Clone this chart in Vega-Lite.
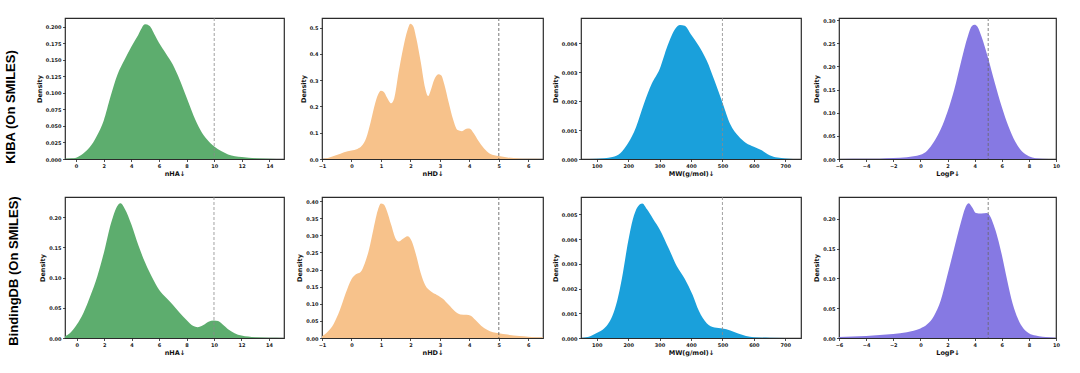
{
  "$schema": "https://vega.github.io/schema/vega-lite/v6.json",
  "background": "white",
  "padding": {"left": 4, "top": 17, "right": 0, "bottom": 0},
  "datasets": {
    "kiba_nha": [
      {"x": -0.8, "d": 0.0005}, {"x": -0.3, "d": 0.001}, {"x": 0, "d": 0.002}, {"x": 0.5, "d": 0.008}, {"x": 1.0, "d": 0.018}, {"x": 1.5, "d": 0.035}, {"x": 2.0, "d": 0.058}, {"x": 2.5, "d": 0.095}, {"x": 3.0, "d": 0.128}, {"x": 3.5, "d": 0.15}, {"x": 4.0, "d": 0.17}, {"x": 4.5, "d": 0.188}, {"x": 5.0, "d": 0.204}, {"x": 5.3, "d": 0.202}, {"x": 5.7, "d": 0.188}, {"x": 6.0, "d": 0.176}, {"x": 6.5, "d": 0.16}, {"x": 7.0, "d": 0.143}, {"x": 7.5, "d": 0.12}, {"x": 8.0, "d": 0.093}, {"x": 8.5, "d": 0.066}, {"x": 9.0, "d": 0.044}, {"x": 9.5, "d": 0.029}, {"x": 10.0, "d": 0.019}, {"x": 10.5, "d": 0.012}, {"x": 11.0, "d": 0.007}, {"x": 12.0, "d": 0.003}, {"x": 13.0, "d": 0.0012}, {"x": 14.0, "d": 0.0005}, {"x": 15.05, "d": 0.0001}
    ],
    "kiba_nhd": [
      {"x": -1.0, "d": 0.0}, {"x": -0.8, "d": 0.004}, {"x": -0.5, "d": 0.015}, {"x": -0.25, "d": 0.026}, {"x": 0.0, "d": 0.032}, {"x": 0.2, "d": 0.038}, {"x": 0.35, "d": 0.05}, {"x": 0.5, "d": 0.08}, {"x": 0.65, "d": 0.14}, {"x": 0.8, "d": 0.21}, {"x": 0.9, "d": 0.245}, {"x": 1.0, "d": 0.26}, {"x": 1.1, "d": 0.255}, {"x": 1.2, "d": 0.235}, {"x": 1.35, "d": 0.212}, {"x": 1.45, "d": 0.23}, {"x": 1.6, "d": 0.33}, {"x": 1.75, "d": 0.42}, {"x": 1.9, "d": 0.49}, {"x": 2.0, "d": 0.515}, {"x": 2.1, "d": 0.505}, {"x": 2.2, "d": 0.46}, {"x": 2.35, "d": 0.37}, {"x": 2.5, "d": 0.27}, {"x": 2.6, "d": 0.24}, {"x": 2.7, "d": 0.265}, {"x": 2.8, "d": 0.3}, {"x": 2.95, "d": 0.323}, {"x": 3.05, "d": 0.318}, {"x": 3.15, "d": 0.285}, {"x": 3.3, "d": 0.215}, {"x": 3.45, "d": 0.15}, {"x": 3.6, "d": 0.11}, {"x": 3.75, "d": 0.106}, {"x": 3.9, "d": 0.115}, {"x": 4.0, "d": 0.116}, {"x": 4.15, "d": 0.098}, {"x": 4.3, "d": 0.07}, {"x": 4.5, "d": 0.04}, {"x": 4.7, "d": 0.02}, {"x": 5.0, "d": 0.011}, {"x": 5.3, "d": 0.006}, {"x": 5.7, "d": 0.002}, {"x": 6.0, "d": 0.0005}, {"x": 6.5, "d": 0.0}
    ],
    "kiba_mw": [
      {"x": 50, "d": 0}, {"x": 100, "d": 0.00001}, {"x": 150, "d": 0.00007}, {"x": 175, "d": 0.0002}, {"x": 200, "d": 0.00055}, {"x": 225, "d": 0.0011}, {"x": 250, "d": 0.0019}, {"x": 275, "d": 0.0026}, {"x": 300, "d": 0.0031}, {"x": 325, "d": 0.0039}, {"x": 350, "d": 0.0045}, {"x": 365, "d": 0.00463}, {"x": 380, "d": 0.0046}, {"x": 400, "d": 0.0043}, {"x": 425, "d": 0.0039}, {"x": 450, "d": 0.0034}, {"x": 475, "d": 0.0027}, {"x": 500, "d": 0.00195}, {"x": 525, "d": 0.0012}, {"x": 550, "d": 0.0008}, {"x": 575, "d": 0.00055}, {"x": 600, "d": 0.00042}, {"x": 625, "d": 0.0003}, {"x": 650, "d": 0.00013}, {"x": 675, "d": 0.00005}, {"x": 700, "d": 0.00002}, {"x": 750, "d": 0}
    ],
    "kiba_logp": [
      {"x": -6, "d": 0}, {"x": -4, "d": 0.0003}, {"x": -3, "d": 0.0008}, {"x": -2, "d": 0.002}, {"x": -1, "d": 0.004}, {"x": -0.5, "d": 0.006}, {"x": 0, "d": 0.009}, {"x": 0.5, "d": 0.018}, {"x": 1.0, "d": 0.037}, {"x": 1.5, "d": 0.064}, {"x": 2.0, "d": 0.102}, {"x": 2.5, "d": 0.15}, {"x": 3.0, "d": 0.21}, {"x": 3.5, "d": 0.265}, {"x": 3.8, "d": 0.287}, {"x": 4.0, "d": 0.29}, {"x": 4.2, "d": 0.286}, {"x": 4.5, "d": 0.265}, {"x": 5.0, "d": 0.217}, {"x": 5.5, "d": 0.163}, {"x": 6.0, "d": 0.113}, {"x": 6.5, "d": 0.07}, {"x": 7.0, "d": 0.037}, {"x": 7.5, "d": 0.016}, {"x": 8.0, "d": 0.006}, {"x": 8.5, "d": 0.0015}, {"x": 9.0, "d": 0.0004}, {"x": 10, "d": 0}
    ],
    "bdb_nha": [
      {"x": -0.85, "d": 0.003}, {"x": -0.5, "d": 0.008}, {"x": 0, "d": 0.022}, {"x": 0.5, "d": 0.042}, {"x": 1.0, "d": 0.07}, {"x": 1.5, "d": 0.102}, {"x": 2.0, "d": 0.143}, {"x": 2.5, "d": 0.19}, {"x": 3.0, "d": 0.22}, {"x": 3.2, "d": 0.223}, {"x": 3.5, "d": 0.214}, {"x": 4.0, "d": 0.187}, {"x": 4.5, "d": 0.153}, {"x": 5.0, "d": 0.124}, {"x": 5.5, "d": 0.1}, {"x": 6.0, "d": 0.08}, {"x": 6.5, "d": 0.067}, {"x": 7.0, "d": 0.055}, {"x": 7.5, "d": 0.042}, {"x": 8.0, "d": 0.03}, {"x": 8.5, "d": 0.02}, {"x": 8.8, "d": 0.018}, {"x": 9.2, "d": 0.021}, {"x": 9.6, "d": 0.027}, {"x": 10.0, "d": 0.029}, {"x": 10.3, "d": 0.028}, {"x": 10.7, "d": 0.021}, {"x": 11.0, "d": 0.015}, {"x": 11.5, "d": 0.008}, {"x": 12.0, "d": 0.004}, {"x": 13.0, "d": 0.0013}, {"x": 14.0, "d": 0.0004}, {"x": 15.1, "d": 0.0001}
    ],
    "bdb_nhd": [
      {"x": -1.0, "d": 0.005}, {"x": -0.8, "d": 0.019}, {"x": -0.6, "d": 0.042}, {"x": -0.4, "d": 0.08}, {"x": -0.2, "d": 0.13}, {"x": 0.0, "d": 0.172}, {"x": 0.15, "d": 0.186}, {"x": 0.3, "d": 0.192}, {"x": 0.45, "d": 0.218}, {"x": 0.6, "d": 0.26}, {"x": 0.75, "d": 0.32}, {"x": 0.9, "d": 0.375}, {"x": 1.0, "d": 0.393}, {"x": 1.1, "d": 0.39}, {"x": 1.2, "d": 0.372}, {"x": 1.35, "d": 0.33}, {"x": 1.5, "d": 0.29}, {"x": 1.6, "d": 0.282}, {"x": 1.75, "d": 0.29}, {"x": 1.9, "d": 0.297}, {"x": 2.05, "d": 0.282}, {"x": 2.2, "d": 0.24}, {"x": 2.35, "d": 0.19}, {"x": 2.5, "d": 0.155}, {"x": 2.7, "d": 0.136}, {"x": 2.9, "d": 0.126}, {"x": 3.1, "d": 0.115}, {"x": 3.3, "d": 0.097}, {"x": 3.5, "d": 0.079}, {"x": 3.7, "d": 0.069}, {"x": 3.9, "d": 0.068}, {"x": 4.05, "d": 0.065}, {"x": 4.2, "d": 0.053}, {"x": 4.4, "d": 0.036}, {"x": 4.6, "d": 0.024}, {"x": 4.8, "d": 0.017}, {"x": 5.0, "d": 0.014}, {"x": 5.3, "d": 0.01}, {"x": 5.7, "d": 0.006}, {"x": 6.0, "d": 0.004}, {"x": 6.5, "d": 0.002}
    ],
    "bdb_mw": [
      {"x": 50, "d": 0}, {"x": 75, "d": 0.00005}, {"x": 100, "d": 0.0002}, {"x": 125, "d": 0.0004}, {"x": 150, "d": 0.0009}, {"x": 165, "d": 0.0015}, {"x": 180, "d": 0.0024}, {"x": 200, "d": 0.0039}, {"x": 215, "d": 0.0048}, {"x": 230, "d": 0.0053}, {"x": 245, "d": 0.00544}, {"x": 260, "d": 0.0052}, {"x": 280, "d": 0.0048}, {"x": 300, "d": 0.0044}, {"x": 330, "d": 0.0036}, {"x": 355, "d": 0.0029}, {"x": 380, "d": 0.0024}, {"x": 405, "d": 0.00175}, {"x": 425, "d": 0.0011}, {"x": 450, "d": 0.0006}, {"x": 475, "d": 0.00042}, {"x": 500, "d": 0.00038}, {"x": 525, "d": 0.0003}, {"x": 550, "d": 0.00018}, {"x": 575, "d": 0.00008}, {"x": 600, "d": 0.00003}, {"x": 650, "d": 0.00001}, {"x": 750, "d": 0}
    ],
    "bdb_logp": [
      {"x": -6, "d": 0.0015}, {"x": -5, "d": 0.0025}, {"x": -4, "d": 0.0035}, {"x": -3, "d": 0.005}, {"x": -2, "d": 0.0068}, {"x": -1, "d": 0.0095}, {"x": -0.5, "d": 0.012}, {"x": 0, "d": 0.016}, {"x": 0.5, "d": 0.023}, {"x": 1.0, "d": 0.037}, {"x": 1.5, "d": 0.063}, {"x": 2.0, "d": 0.106}, {"x": 2.5, "d": 0.151}, {"x": 3.0, "d": 0.195}, {"x": 3.3, "d": 0.218}, {"x": 3.55, "d": 0.226}, {"x": 3.8, "d": 0.22}, {"x": 4.1, "d": 0.21}, {"x": 4.5, "d": 0.209}, {"x": 4.9, "d": 0.21}, {"x": 5.1, "d": 0.206}, {"x": 5.4, "d": 0.19}, {"x": 5.7, "d": 0.168}, {"x": 6.0, "d": 0.14}, {"x": 6.4, "d": 0.097}, {"x": 6.8, "d": 0.058}, {"x": 7.2, "d": 0.032}, {"x": 7.6, "d": 0.016}, {"x": 8.0, "d": 0.008}, {"x": 8.5, "d": 0.004}, {"x": 9.0, "d": 0.002}, {"x": 10, "d": 0.0005}
    ]
  },
  "spacing": 18,
  "vconcat": [
    {
      "spacing": 38,
      "bounds": "flush",
      "title": {"text": "KIBA (On SMILES)", "orient": "left", "anchor": "middle", "frame": "bounds", "font": "Liberation Sans", "fontSize": 13, "fontWeight": "bold", "color": "#000", "offset": 18, "dx": -10},
      "hconcat": [
        {
          "width": 219, "height": 141,
          "data": {"name": "kiba_nha"},
          "layer": [
            {"mark": {"type": "area", "color": "#5dad6e", "interpolate": "monotone", "clip": true},
             "encoding": {
               "x": {"field": "x", "type": "quantitative", "scale": {"domain": [-0.8, 15.05], "nice": false, "zero": false}, "axis": {"title": "nHA↓", "values": [0, 2, 4, 6, 8, 10, 12, 14], "tickCount": 50, "format": "d", "labelOverlap": false}},
               "y": {"field": "d", "type": "quantitative", "scale": {"domain": [0, 0.2136], "nice": false}, "axis": {"title": "Density", "values": [0, 0.025, 0.05, 0.075, 0.1, 0.125, 0.15, 0.175, 0.2], "tickCount": 50, "format": ".3f", "labelOverlap": false}}
             }},
            {"data": {"values": [{"x": 10}]}, "mark": {"type": "rule", "color": "#8a8a8a", "strokeDash": [3, 2], "strokeWidth": 0.8},
             "encoding": {"x": {"field": "x", "type": "quantitative"}}}
          ]
        },
        {
          "width": 221, "height": 141,
          "data": {"name": "kiba_nhd"},
          "layer": [
            {"mark": {"type": "area", "color": "#f7c28b", "interpolate": "monotone", "clip": true},
             "encoding": {
               "x": {"field": "x", "type": "quantitative", "scale": {"domain": [-1, 6.5], "nice": false, "zero": false}, "axis": {"title": "nHD↓", "values": [-1, 0, 1, 2, 3, 4, 5, 6], "tickCount": 50, "format": "d", "labelOverlap": false}},
               "y": {"field": "d", "type": "quantitative", "scale": {"domain": [0, 0.537], "nice": false}, "axis": {"title": "Density", "values": [0, 0.1, 0.2, 0.3, 0.4, 0.5], "tickCount": 50, "format": ".1f", "labelOverlap": false}}
             }},
            {"data": {"values": [{"x": 5}]}, "mark": {"type": "rule", "color": "#555555", "strokeDash": [3, 2], "strokeWidth": 0.8},
             "encoding": {"x": {"field": "x", "type": "quantitative"}}}
          ]
        },
        {
          "width": 220, "height": 141,
          "data": {"name": "kiba_mw"},
          "layer": [
            {"mark": {"type": "area", "color": "#1aa0db", "interpolate": "monotone", "clip": true},
             "encoding": {
               "x": {"field": "x", "type": "quantitative", "scale": {"domain": [50, 750], "nice": false, "zero": false}, "axis": {"title": "MW(g/mol)↓", "values": [100, 200, 300, 400, 500, 600, 700], "tickCount": 50, "format": "d", "labelOverlap": false}},
               "y": {"field": "d", "type": "quantitative", "scale": {"domain": [0, 0.00487], "nice": false}, "axis": {"title": "Density", "values": [0, 0.001, 0.002, 0.003, 0.004], "tickCount": 50, "format": ".3f", "labelOverlap": false}}
             }},
            {"data": {"values": [{"x": 500}]}, "mark": {"type": "rule", "color": "#8a8a8a", "strokeDash": [3, 2], "strokeWidth": 0.8},
             "encoding": {"x": {"field": "x", "type": "quantitative"}}}
          ]
        },
        {
          "width": 217, "height": 141,
          "data": {"name": "kiba_logp"},
          "layer": [
            {"mark": {"type": "area", "color": "#8679e3", "interpolate": "monotone", "clip": true},
             "encoding": {
               "x": {"field": "x", "type": "quantitative", "scale": {"domain": [-6, 10], "nice": false, "zero": false}, "axis": {"title": "LogP↓", "values": [-6, -4, -2, 0, 2, 4, 6, 8, 10], "tickCount": 50, "format": "d", "labelOverlap": false}},
               "y": {"field": "d", "type": "quantitative", "scale": {"domain": [0, 0.3045], "nice": false}, "axis": {"title": "Density", "values": [0, 0.05, 0.1, 0.15, 0.2, 0.25, 0.3], "tickCount": 50, "format": ".2f", "labelOverlap": false}}
             }},
            {"data": {"values": [{"x": 5}]}, "mark": {"type": "rule", "color": "#666666", "strokeDash": [3, 2], "strokeWidth": 0.8},
             "encoding": {"x": {"field": "x", "type": "quantitative"}}}
          ]
        }
      ]
    },
    {
      "spacing": 38,
      "bounds": "flush",
      "title": {"text": "BindingDB (On SMILES)", "orient": "left", "anchor": "middle", "frame": "bounds", "font": "Liberation Sans", "fontSize": 13, "fontWeight": "bold", "color": "#000", "offset": 18, "dx": 5},
      "hconcat": [
        {
          "width": 219, "height": 141,
          "data": {"name": "bdb_nha"},
          "layer": [
            {"mark": {"type": "area", "color": "#5dad6e", "interpolate": "monotone", "clip": true},
             "encoding": {
               "x": {"field": "x", "type": "quantitative", "scale": {"domain": [-0.85, 15.1], "nice": false, "zero": false}, "axis": {"title": "nHA↓", "values": [0, 2, 4, 6, 8, 10, 12, 14], "tickCount": 50, "format": "d", "labelOverlap": false}},
               "y": {"field": "d", "type": "quantitative", "scale": {"domain": [0, 0.2335], "nice": false}, "axis": {"title": "Density", "values": [0, 0.05, 0.1, 0.15, 0.2], "tickCount": 50, "format": ".2f", "labelOverlap": false}}
             }},
            {"data": {"values": [{"x": 10}]}, "mark": {"type": "rule", "color": "#8a8a8a", "strokeDash": [3, 2], "strokeWidth": 0.8},
             "encoding": {"x": {"field": "x", "type": "quantitative"}}}
          ]
        },
        {
          "width": 221, "height": 141,
          "data": {"name": "bdb_nhd"},
          "layer": [
            {"mark": {"type": "area", "color": "#f7c28b", "interpolate": "monotone", "clip": true},
             "encoding": {
               "x": {"field": "x", "type": "quantitative", "scale": {"domain": [-1, 6.5], "nice": false, "zero": false}, "axis": {"title": "nHD↓", "values": [-1, 0, 1, 2, 3, 4, 5, 6], "tickCount": 50, "format": "d", "labelOverlap": false}},
               "y": {"field": "d", "type": "quantitative", "scale": {"domain": [0, 0.412], "nice": false}, "axis": {"title": "Density", "values": [0, 0.05, 0.1, 0.15, 0.2, 0.25, 0.3, 0.35, 0.4], "tickCount": 50, "format": ".2f", "labelOverlap": false}}
             }},
            {"data": {"values": [{"x": 5}]}, "mark": {"type": "rule", "color": "#555555", "strokeDash": [3, 2], "strokeWidth": 0.8},
             "encoding": {"x": {"field": "x", "type": "quantitative"}}}
          ]
        },
        {
          "width": 220, "height": 141,
          "data": {"name": "bdb_mw"},
          "layer": [
            {"mark": {"type": "area", "color": "#1aa0db", "interpolate": "monotone", "clip": true},
             "encoding": {
               "x": {"field": "x", "type": "quantitative", "scale": {"domain": [50, 750], "nice": false, "zero": false}, "axis": {"title": "MW(g/mol)↓", "values": [100, 200, 300, 400, 500, 600, 700], "tickCount": 50, "format": "d", "labelOverlap": false}},
               "y": {"field": "d", "type": "quantitative", "scale": {"domain": [0, 0.0057], "nice": false}, "axis": {"title": "Density", "values": [0, 0.001, 0.002, 0.003, 0.004, 0.005], "tickCount": 50, "format": ".3f", "labelOverlap": false}}
             }},
            {"data": {"values": [{"x": 500}]}, "mark": {"type": "rule", "color": "#8a8a8a", "strokeDash": [3, 2], "strokeWidth": 0.8},
             "encoding": {"x": {"field": "x", "type": "quantitative"}}}
          ]
        },
        {
          "width": 217, "height": 141,
          "data": {"name": "bdb_logp"},
          "layer": [
            {"mark": {"type": "area", "color": "#8679e3", "interpolate": "monotone", "clip": true},
             "encoding": {
               "x": {"field": "x", "type": "quantitative", "scale": {"domain": [-6, 10], "nice": false, "zero": false}, "axis": {"title": "LogP↓", "values": [-6, -4, -2, 0, 2, 4, 6, 8, 10], "tickCount": 50, "format": "d", "labelOverlap": false}},
               "y": {"field": "d", "type": "quantitative", "scale": {"domain": [0, 0.2367], "nice": false}, "axis": {"title": "Density", "values": [0, 0.05, 0.1, 0.15, 0.2], "tickCount": 50, "format": ".2f", "labelOverlap": false}}
             }},
            {"data": {"values": [{"x": 5}]}, "mark": {"type": "rule", "color": "#666666", "strokeDash": [3, 2], "strokeWidth": 0.8},
             "encoding": {"x": {"field": "x", "type": "quantitative"}}}
          ]
        }
      ]
    }
  ],
  "config": {
    "font": "DejaVu Sans",
    "view": {"stroke": "#2b2b2b", "strokeWidth": 1.2},
    "axis": {
      "grid": false, "domain": false,
      "tickColor": "#222", "tickSize": 2.5, "tickWidth": 0.8,
      "labelFont": "DejaVu Sans", "labelFontSize": 5, "labelFontWeight": "bold", "labelColor": "#222",
      "labelPadding": 1.5, "labelFlush": false, "labelOverlap": false,
      "titleFont": "DejaVu Sans", "titleFontSize": 6.5, "titleFontWeight": "bold", "titleColor": "#111",
      "titlePadding": 2
    },
    "axisY": {"titlePadding": 3}
  }
}
